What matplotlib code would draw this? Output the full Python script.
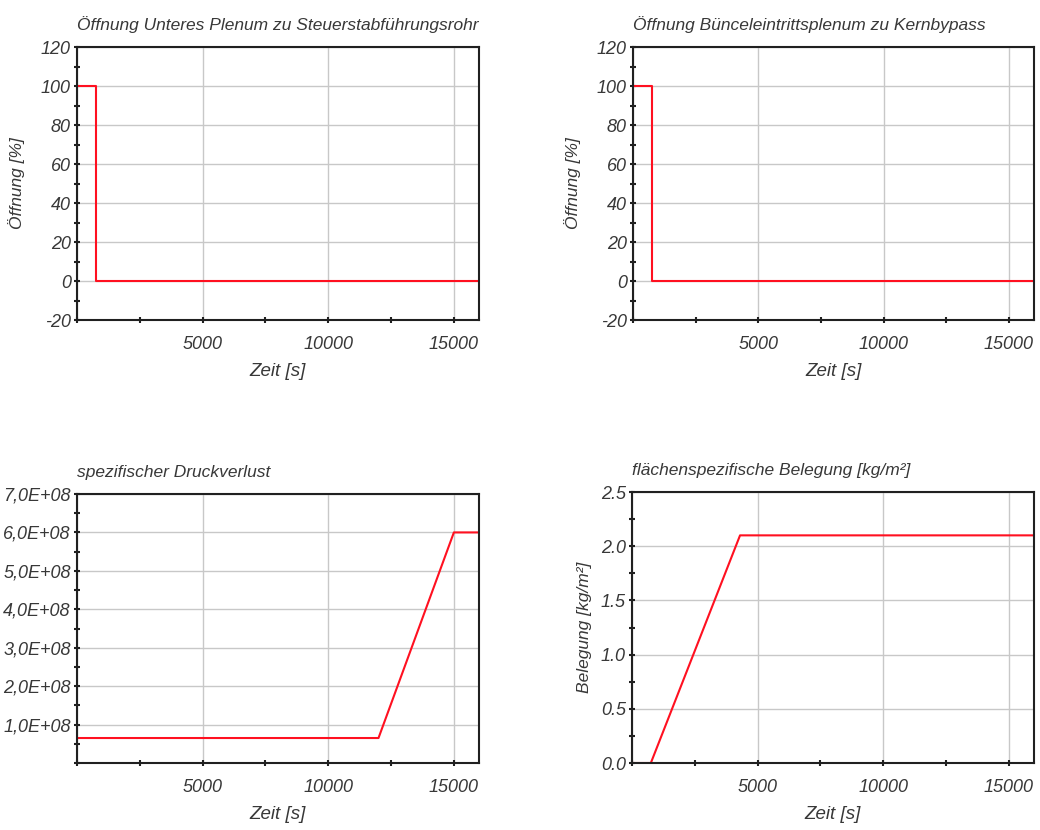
import numpy as np
import matplotlib
matplotlib.use('Agg')
import matplotlib.pyplot as plt
from matplotlib.ticker import MultipleLocator, FuncFormatter

# Data
t_open = [0, 750, 750, 16000]
open_lower = [100, 100, 0, 0]
open_bundle = [100, 100, 0, 0]

t_dp = [0, 12000, 15000, 16000]
dp_vals = [0.65e8, 0.65e8, 6.0e8, 6.0e8]

t_bel = [0, 750, 4300, 16000]
bel_vals = [0.0, 0.0, 2.1, 2.1]

titles = ['Öffnung Unteres Plenum zu Steuerstabführungsrohr',
          'Öffnung Bünceleintrittsplenum zu Kernbypass',
          'spezifischer Druckverlust',
          'flächenspezifische Belegung [kg/m²]']

plt.rcParams['font.family'] = ['Liberation Sans', 'DejaVu Sans']
plt.rcParams['font.style'] = 'italic'
plt.rcParams['axes.unicode_minus'] = False

W, H = 1040, 830
fig = plt.figure(figsize=(W / 100, H / 100), dpi=100)

def make_ax(x0, x1, y0, y1):
    return fig.add_axes([x0 / W, 1 - y1 / H, (x1 - x0) / W, (y1 - y0) / H])

text_col = '#383838'

def style(ax, title):
    ax.set_xlim(0, 16000)
    ax.xaxis.set_major_locator(MultipleLocator(5000))
    ax.xaxis.set_minor_locator(MultipleLocator(2500))
    ax.xaxis.set_major_formatter(FuncFormatter(lambda v, p: '' if v == 0 else '%d' % v))
    ax.grid(True, which='major', color='#c8c8c8', linewidth=1.0)
    ax.set_axisbelow(True)
    for s in ax.spines.values():
        s.set_color('#202020')
        s.set_linewidth(1.5)
    ax.tick_params(which='both', direction='inout', colors='#202020',
                   labelcolor=text_col, labelsize=13, width=1.5)
    ax.tick_params(which='major', length=5)
    ax.tick_params(which='minor', length=4)
    ax.tick_params(axis='y', which='both', pad=2)
    ax.tick_params(axis='x', which='both', pad=9)
    ax.set_title(title, loc='left', fontsize=12.5, color=text_col, pad=12)
    ax.set_xlabel('Zeit [s]', fontsize=13.5, color=text_col, labelpad=7)

red = '#ff1020'

# top left
ax1 = make_ax(77, 479, 47, 320)
ax1.plot(t_open, open_lower, color=red, lw=1.5)
ax1.set_ylim(-20, 120)
ax1.yaxis.set_major_locator(MultipleLocator(20))
ax1.yaxis.set_minor_locator(MultipleLocator(10))
style(ax1, titles[0])
ax1.set_ylabel('Öffnung [%]', fontsize=12.5, color=text_col)
ax1.yaxis.set_label_coords(-0.13, 0.5)

# top right
ax2 = make_ax(633, 1034, 47, 320)
ax2.plot(t_open, open_bundle, color=red, lw=1.5)
ax2.set_ylim(-20, 120)
ax2.yaxis.set_major_locator(MultipleLocator(20))
ax2.yaxis.set_minor_locator(MultipleLocator(10))
style(ax2, titles[1])
ax2.set_ylabel('Öffnung [%]', fontsize=12.5, color=text_col)
ax2.yaxis.set_label_coords(-0.13, 0.5)

# bottom left
ax3 = make_ax(77, 479, 494, 763)
ax3.plot(t_dp, dp_vals, color=red, lw=1.5)
ax3.set_ylim(0, 7e8)
ax3.yaxis.set_major_locator(MultipleLocator(1e8))
ax3.yaxis.set_minor_locator(MultipleLocator(0.5e8))
ax3.yaxis.set_major_formatter(FuncFormatter(
    lambda v, p: '' if v == 0 else ('%.1fE+08' % (v / 1e8)).replace('.', ',')))
style(ax3, titles[2])

# bottom right
ax4 = make_ax(632, 1034, 492, 763)
ax4.plot(t_bel, bel_vals, color=red, lw=1.5)
ax4.set_ylim(0, 2.5)
ax4.yaxis.set_major_locator(MultipleLocator(0.5))
ax4.yaxis.set_minor_locator(MultipleLocator(0.25))
ax4.yaxis.set_major_formatter(FuncFormatter(lambda v, p: '%.1f' % v))
style(ax4, titles[3])
ax4.set_ylabel('Belegung [kg/m²]', fontsize=12.5, color=text_col)
ax4.yaxis.set_label_coords(-0.10, 0.5)

fig.savefig('out.png', dpi=100)
